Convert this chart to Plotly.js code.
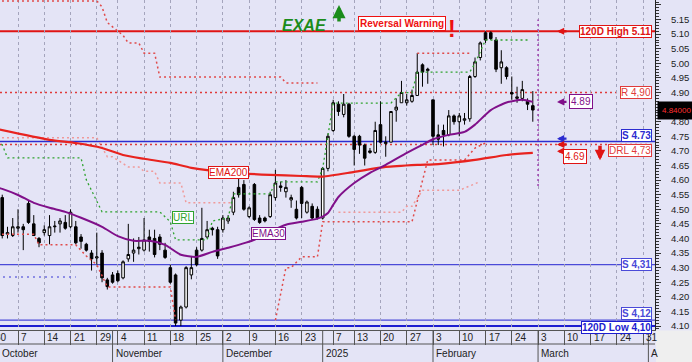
<!DOCTYPE html>
<html><head><meta charset="utf-8">
<script src="https://cdn.plot.ly/plotly-3.0.1.min.js"></script>
<style>html,body{margin:0;padding:0;background:#e4e4f6;}#chart{width:692px;height:362px;}</style>
</head><body><div id="chart"></div>
<script>
// ---------- calendar (trading days) ----------
const calendarStart = '2024-09-30';
const calendarEnd = '2025-04-04';
const holidays = ['2024-10-28','2024-12-25','2024-12-26','2024-12-31','2025-01-01','2025-01-06'];

// ---------- candles (one per trading day from candleStart) ----------
const candleStart = '2024-10-02';
const open  = [4.54,4.415,4.41,4.435,4.44,4.52,4.45,4.40,4.42,4.41,4.44,4.45,4.455,4.44,4.44,4.405,4.38,4.35,4.333,4.35,4.258,4.275,4.28,4.265,4.33,4.35,4.365,4.36,4.405,4.40,4.405,4.36,4.30,4.275,4.12,4.165,4.275,4.36,4.36,4.405,4.435,4.43,4.43,4.46,4.49,4.575,4.585,4.475,4.585,4.47,4.47,4.475,4.54,4.58,4.56,4.532,4.50,4.575,4.49,4.51,4.50,4.47,4.64,4.77,4.86,4.825,4.86,4.75,4.75,4.72,4.70,4.695,4.79,4.725,4.73,4.84,4.865,4.865,4.87,4.89,4.995,4.975,4.875,4.755,4.77,4.755,4.82,4.80,4.805,4.81,4.955,5.02,5.105,5.105,5.08,4.985,4.985,4.90,4.88,4.88,4.87,4.855];
const high  = [4.55,4.44,4.47,4.50,4.45,4.53,4.48,4.405,4.445,4.48,4.46,4.47,4.48,4.50,4.46,4.415,4.385,4.36,4.42,4.36,4.265,4.285,4.29,4.325,4.45,4.40,4.405,4.47,4.43,4.43,4.415,4.385,4.31,4.28,4.17,4.305,4.34,4.37,4.505,4.46,4.44,4.44,4.48,4.48,4.56,4.62,4.60,4.51,4.59,4.48,4.475,4.56,4.635,4.595,4.60,4.55,4.53,4.58,4.53,4.52,4.51,4.645,4.76,4.875,4.87,4.895,4.865,4.755,4.755,4.725,4.71,4.80,4.87,4.75,4.835,4.88,4.94,4.895,4.91,5.035,5.00,4.985,4.875,4.79,4.79,4.84,4.825,4.83,4.83,4.96,5.02,5.075,5.11,5.11,5.09,5.045,4.99,4.955,4.92,4.94,4.88,4.905];
const low   = [4.40,4.40,4.405,4.42,4.36,4.45,4.41,4.37,4.41,4.38,4.42,4.42,4.43,4.435,4.38,4.365,4.355,4.29,4.31,4.25,4.225,4.245,4.25,4.26,4.32,4.32,4.345,4.355,4.355,4.335,4.36,4.33,4.245,4.10,4.10,4.16,4.26,4.305,4.355,4.40,4.41,4.33,4.42,4.45,4.48,4.54,4.495,4.47,4.46,4.45,4.455,4.47,4.53,4.56,4.54,4.505,4.465,4.47,4.485,4.465,4.465,4.465,4.63,4.765,4.82,4.815,4.745,4.65,4.69,4.65,4.69,4.69,4.725,4.68,4.73,4.80,4.865,4.855,4.865,4.89,4.92,4.93,4.72,4.72,4.715,4.75,4.79,4.75,4.79,4.80,4.95,5.01,5.07,5.08,4.97,4.93,4.945,4.875,4.865,4.87,4.84,4.80];
const close = [4.41,4.42,4.44,4.44,4.43,4.455,4.41,4.385,4.43,4.44,4.442,4.46,4.435,4.49,4.385,4.39,4.36,4.33,4.337,4.265,4.235,4.25,4.255,4.32,4.345,4.36,4.37,4.395,4.39,4.345,4.38,4.335,4.25,4.11,4.165,4.30,4.30,4.31,4.40,4.43,4.43,4.34,4.47,4.47,4.54,4.55,4.50,4.505,4.465,4.455,4.46,4.55,4.59,4.575,4.575,4.54,4.47,4.52,4.525,4.47,4.47,4.64,4.75,4.865,4.835,4.86,4.75,4.705,4.72,4.675,4.695,4.77,4.73,4.73,4.835,4.85,4.90,4.875,4.89,4.97,4.97,4.98,4.75,4.74,4.755,4.82,4.80,4.82,4.81,4.955,5.005,5.07,5.08,5.085,4.98,5.005,4.955,4.895,4.885,4.91,4.86,4.84];

// ---------- indicator lines ----------
const ema30Dates  = ['2024-10-01','2024-10-02','2024-10-07','2024-10-10','2024-10-15','2024-10-18','2024-10-23','2024-10-30','2024-11-04','2024-11-07','2024-11-12','2024-11-15','2024-11-20','2024-11-25','2024-11-28','2024-12-03','2024-12-10','2024-12-13','2024-12-18','2024-12-23','2024-12-30','2025-01-02','2025-01-03','2025-01-07','2025-01-08','2025-01-13','2025-01-16','2025-01-21','2025-01-27','2025-01-30','2025-02-03','2025-02-06','2025-02-11','2025-02-13','2025-02-18','2025-02-21','2025-02-26','2025-02-28'];
const ema30Values = [4.575,4.570,4.549,4.522,4.505,4.491,4.471,4.440,4.408,4.392,4.392,4.378,4.344,4.337,4.354,4.368,4.395,4.423,4.447,4.457,4.468,4.475,4.487,4.515,4.542,4.590,4.625,4.652,4.693,4.721,4.740,4.755,4.765,4.790,4.840,4.866,4.875,4.868];
const ema200Dates  = ['2024-10-01','2024-10-15','2024-10-22','2024-10-30','2024-11-05','2024-11-11','2024-11-18','2024-11-22','2024-12-04','2024-12-13','2024-12-23','2025-01-02','2025-01-13','2025-01-21','2025-01-29','2025-02-04','2025-02-13','2025-02-21','2025-02-28'];
const ema200Values = [4.775,4.738,4.727,4.710,4.686,4.673,4.659,4.642,4.625,4.618,4.614,4.612,4.628,4.645,4.652,4.655,4.669,4.686,4.693];
const urlDates  = ['2024-10-01','2024-10-02','2024-10-03','2024-10-23','2024-10-24','2024-10-30','2024-11-14','2024-11-18','2024-11-19','2024-11-27','2024-11-28','2024-12-03','2024-12-04','2024-12-13','2024-12-16','2024-12-30','2025-01-02','2025-01-07','2025-01-22','2025-01-24','2025-01-28','2025-01-29','2025-02-12','2025-02-13','2025-02-17','2025-02-27'];
const urlValues = [4.73,4.721,4.676,4.676,4.601,4.491,4.491,4.457,4.395,4.395,4.46,4.47,4.553,4.553,4.594,4.594,4.64,4.864,4.864,4.90,4.90,4.97,4.97,5.00,5.08,5.08];
const lowerDates  = ['2024-10-01','2024-10-10','2024-10-11','2024-10-22','2024-10-24','2024-10-29','2024-10-31','2024-11-18','2024-11-19','2024-11-20','2024-12-16','2024-12-18','2024-12-19','2024-12-23','2024-12-30','2025-01-02','2025-01-28','2025-01-30','2025-01-31','2025-02-11','2025-02-13','2025-02-17'];
const lowerValues = [4.414,4.414,4.378,4.378,4.34,4.31,4.234,4.234,4.12,null,4.12,4.30,4.30,4.337,4.337,4.457,4.457,4.60,4.669,4.669,4.71,4.727];
const upperDates  = ['2024-10-01','2024-10-29','2024-10-30','2024-10-31','2024-11-01','2024-11-05','2024-11-06','2024-11-08','2024-11-11','2024-11-13','2024-11-14','2024-12-17','2024-12-18','2024-12-30','2025-01-02','2025-01-29','2025-02-12'];
const upperValues = [5.214,5.214,5.193,5.14,5.125,5.096,5.07,5.07,5.035,5.035,4.953,4.953,4.933,4.933,null,5.035,5.035];
const pinkDates  = ['2024-10-01','2024-10-29','2024-10-31','2024-11-01','2024-11-06','2024-11-08','2024-11-11','2024-11-13','2024-11-14','2024-11-20','2024-11-21','2024-12-04','2024-12-05','2025-01-08','2025-01-24','2025-01-27','2025-01-28','2025-01-30','2025-02-10','2025-02-14'];
const pinkValues = [4.745,4.745,4.68,4.68,4.645,4.645,4.63,4.63,4.59,4.59,4.522,4.522,null,4.49,4.49,4.51,4.51,4.565,4.565,4.595];
const blueDotDates  = ['2024-10-01','2024-10-22'];
const blueDotValues = [4.268,4.268];

// ---------- horizontal levels ----------
const levelValues = [5.11, 4.90, 4.732, 4.722, 4.31, 4.12, 4.10];
const levelLabels = ['120D High 5.11','R 4,90','S 4.73','DRL 4,73','S 4,31','S 4,12','120D Low 4,10'];

// ---------- axis labels ----------
const weekTickDates = ['2024-09-30','2024-10-07','2024-10-14','2024-10-21','2024-10-29','2024-11-04','2024-11-11','2024-11-18','2024-11-25','2024-12-02','2024-12-09','2024-12-16','2024-12-23','2025-01-07','2025-01-13','2025-01-20','2025-01-27','2025-02-03','2025-02-10','2025-02-17','2025-02-24','2025-03-03','2025-03-10','2025-03-17','2025-03-24','2025-03-31'];
const monthStartDates = ['2024-11-01','2024-12-02','2025-01-02','2025-02-03','2025-03-03','2025-04-01'];
const monthLabels = ['November','December','2025','February','March','A'];
const firstMonthLabel = 'October';
const markerDate = '2025-03-03';
const ema30Tag = '4.89', ema200Tag = '4.69';

// ---------- build calendar ----------
function iso(d){return d.toISOString().slice(0,10);}
const calendar = [];
for (let d = new Date(calendarStart+'T00:00:00Z'); iso(d) <= calendarEnd; d.setUTCDate(d.getUTCDate()+1)) {
  const wd = d.getUTCDay(), s = iso(d);
  if (wd > 0 && wd < 6 && !holidays.includes(s)) calendar.push(s);
}
const ix = s => calendar.indexOf(s);
const c0 = ix(candleStart);
const candleX = open.map((_, i) => c0 + i);

const xRange = [1.574, 126.26];
const yRange = [4.0863, 5.2171];
const PW = 655, PH = 330;
const xp = i => (i - xRange[0]) / (xRange[1] - xRange[0]);
const FONT = 'Liberation Sans, Arial, sans-serif';

function dotted(dates, vals, color, width, dash) {
  return {type:'scatter', mode:'lines', x:dates.map(ix), y:vals, connectgaps:false,
          line:{color:color, width:width, dash:dash}, hoverinfo:'skip'};
}
const traces = [
  dotted(pinkDates, pinkValues, '#f09a9a', 1.5, '2px,3px'),
  dotted(blueDotDates, blueDotValues, '#6f6fe0', 1.5, '2px,4px'),
  dotted(upperDates, upperValues, '#e04a4a', 1.5, '2px,3px'),
  dotted(lowerDates, lowerValues, '#e04a4a', 1.5, '2px,3px'),
  dotted(urlDates, urlValues, '#2fa32f', 1.3, '2px,3px'),
  {type:'candlestick', x:candleX, open:open, high:high, low:low, close:close,
   increasing:{line:{color:'#000', width:1}, fillcolor:'#ffffff'},
   decreasing:{line:{color:'#000', width:1}, fillcolor:'#000000'},
   whiskerwidth:0, hoverinfo:'skip'},
  {type:'scatter', mode:'lines', x:ema200Dates.map(ix), y:ema200Values,
   line:{color:'#e8231f', width:2.2, shape:'spline', smoothing:0.6}, hoverinfo:'skip'},
  {type:'scatter', mode:'lines', x:ema30Dates.map(ix), y:ema30Values,
   line:{color:'#80108a', width:2, shape:'spline', smoothing:0.6}, hoverinfo:'skip'}
];

const levelColors = ['#e01414','#e03a3a','#2c2cd0','#e03a3a','#4a4ad8','#4a4ad8','#1c1cd0'];
const levelWidths = [2, 1.5, 1.5, 1.5, 1.2, 1.2, 2];
const levelDash = ['solid','2px,3px','solid','2px,3px','solid','solid','solid'];
const levelShift = [0, 0, 6, -6, 0, 7, -1];
const levelBold = [true, false, true, false, true, true, true];

const shapes = [];
levelValues.forEach((v, i) => shapes.push({type:'line', xref:'paper', x0:0, x1:1, yref:'y', y0:v, y1:v, layer:'below',
  line:{color:levelColors[i], width:levelWidths[i], dash:levelDash[i]}}));
shapes.push({type:'line', xref:'x', x0:ix(markerDate), x1:ix(markerDate), yref:'y', y0:4.58, y1:5.15,
  line:{color:'#a040b0', width:1.5, dash:'2px,3px'}});
monthStartDates.forEach(d => shapes.push({type:'line', xref:'x', x0:ix(d), x1:ix(d), yref:'paper', y0:0, y1:-32/PH,
  line:{color:'#555', width:1}}));
shapes.push({type:'line', xref:'paper', x0:0, x1:1, yref:'paper', y0:-14/PH, y1:-14/PH, line:{color:'#555', width:1}});
shapes.push({type:'rect', xref:'paper', x0:1.0015, x1:1+40/PW, yref:'paper', y0:-0.0015, y1:-40/PH, layer:'above',
  fillcolor:'#efefef', line:{width:0}});

const ann = [];
// day labels
weekTickDates.forEach(d => ann.push({xref:'paper', yref:'paper', x:xp(ix(d)), y:-7/PH, xanchor:'left', yanchor:'middle',
  xshift:1, showarrow:false, text:String(parseInt(d.slice(8),10)), font:{family:FONT, size:10, color:'#222'}}));
// month labels
ann.push({xref:'paper', yref:'paper', x:0, y:-23/PH, xanchor:'left', yanchor:'middle', showarrow:false,
  text:firstMonthLabel, font:{family:FONT, size:10, color:'#222'}});
monthStartDates.forEach((d, i) => ann.push({xref:'paper', yref:'paper', x:xp(ix(d)), y:-23/PH, xanchor:'left', yanchor:'middle',
  xshift:1, showarrow:false, text:monthLabels[i], font:{family:FONT, size:10, color:'#222'}}));
// level labels
levelValues.forEach((v, i) => ann.push({xref:'paper', yref:'y', x:652/PW, y:v, yshift:levelShift[i], xanchor:'right', yanchor:'middle',
  showarrow:false, text:levelBold[i] ? '<b>'+levelLabels[i]+'</b>' : levelLabels[i],
  font:{family:FONT, size:10, color:levelColors[i]}, bgcolor:'#ffffff', bordercolor:levelColors[i], borderwidth:1, borderpad:0}));
// side arrows
const ema30Last = ema30Values[ema30Values.length-1], ema200Last = ema200Values[ema200Values.length-1];
[[levelValues[0],'#e01414'],[ema30Last,'#80108a'],[levelValues[2]+0.01,'#2c2cd0'],[levelValues[3],'#e01414'],[ema200Last+0.006,'#e01414']]
 .forEach(a => ann.push({xref:'paper', yref:'y', x:557/PW, y:a[0], ax:11, ay:0, showarrow:true, text:'',
   arrowhead:2, arrowsize:0.6, arrowwidth:2.4, arrowcolor:a[1]}));
ann.push({xref:'paper', yref:'y', x:593/PW, y:ema30Last, showarrow:false, text:ema30Tag,
  font:{family:FONT, size:10, color:'#80108a'}, bgcolor:'#fff', bordercolor:'#80108a', borderwidth:1, borderpad:1});
ann.push({xref:'paper', yref:'y', x:587/PW, y:ema200Last-0.012, showarrow:false, text:ema200Tag,
  font:{family:FONT, size:10, color:'#e01414'}, bgcolor:'#fff', bordercolor:'#e01414', borderwidth:1, borderpad:1});
ann.push({xref:'paper', yref:'y', x:600/PW, y:4.668, ax:0, ay:-16, showarrow:true, text:'',
  arrowhead:2, arrowsize:0.6, arrowwidth:3.5, arrowcolor:'#e01414'});
// last price
ann.push({xref:'paper', yref:'y', x:1, xshift:2, y:close[close.length-1], xanchor:'left', yanchor:'middle', showarrow:false,
  text:close[close.length-1].toFixed(5), font:{family:FONT, size:8, color:'#ff3030'}, bgcolor:'#000', borderpad:4});
// indicator tags
ann.push({xref:'paper', yref:'paper', x:208/PW, y:(PH-172.5)/PH, showarrow:false, text:'EMA200',
  font:{family:FONT, size:10, color:'#e01414'}, bgcolor:'#fff', bordercolor:'#e01414', borderwidth:1, borderpad:0});
ann.push({xref:'paper', yref:'paper', x:268/PW, y:(PH-240)/PH, showarrow:false, text:'EMA30',
  font:{family:FONT, size:10, color:'#80108a'}, bgcolor:'#fff', bordercolor:'#80108a', borderwidth:1, borderpad:0});
ann.push({xref:'paper', yref:'paper', x:172/PW, y:(PH-217)/PH, showarrow:false, text:'URL',
  font:{family:FONT, size:10, color:'#2fa32f'}, bgcolor:'#fff', bordercolor:'#2fa32f', borderwidth:1, borderpad:0});
// title
ann.push({xref:'paper', yref:'paper', x:304/PW, y:(PH-15)/PH, showarrow:false, text:'<b><i>EXAE</i></b>',
  font:{family:FONT, size:16, color:'#1b8c1b'}});
ann.push({xref:'paper', yref:'paper', x:339/PW, y:(PH-5)/PH, ax:0, ay:18, showarrow:true, text:'',
  arrowhead:2, arrowsize:0.75, arrowwidth:3.5, arrowcolor:'#1b8c1b'});
ann.push({xref:'paper', yref:'paper', x:402/PW, y:(PH-16)/PH, showarrow:false, text:'<b>Reversal Warning</b>',
  font:{family:FONT, size:10, color:'#ee1111'}, bgcolor:'#fff', bordercolor:'#ee1111', borderwidth:1, borderpad:1});
ann.push({xref:'paper', yref:'paper', x:458/PW, y:(PH-14)/PH, showarrow:false, text:'<b>!</b>',
  font:{family:FONT, size:23, color:'#ee1111'}});

const layout = {
  width:692, height:362, margin:{l:0, r:37, t:0, b:32, pad:0},
  paper_bgcolor:'#e4e4f6', plot_bgcolor:'#e4e4f6', showlegend:false,
  font:{family:FONT, size:10, color:'#222'},
  xaxis:{range:xRange, tickmode:'array', tickvals:weekTickDates.map(ix), ticks:'outside', ticklen:14, tickcolor:'#555',
    showticklabels:false, showgrid:true, gridcolor:'#a4a4bc', griddash:'dot', gridwidth:1,
    showline:true, linecolor:'#555', zeroline:false, rangeslider:{visible:false}, fixedrange:true},
  yaxis:{side:'right', range:yRange, tick0:4.10, dtick:0.05, tickformat:'.2f', ticks:'outside', ticklen:5, tickcolor:'#333',
    showline:true, linecolor:'#222', showgrid:false, zeroline:false, tickfont:{family:FONT, size:9.5, color:'#222'},
    ticklabelstandoff:8, minor:{dtick:0.01, tick0:4.10, ticks:'outside', ticklen:3, tickcolor:'#333', showgrid:false}, fixedrange:true},
  shapes:shapes, annotations:ann
};
Plotly.newPlot('chart', traces, layout, {displayModeBar:false, staticPlot:true});
</script></body></html>
